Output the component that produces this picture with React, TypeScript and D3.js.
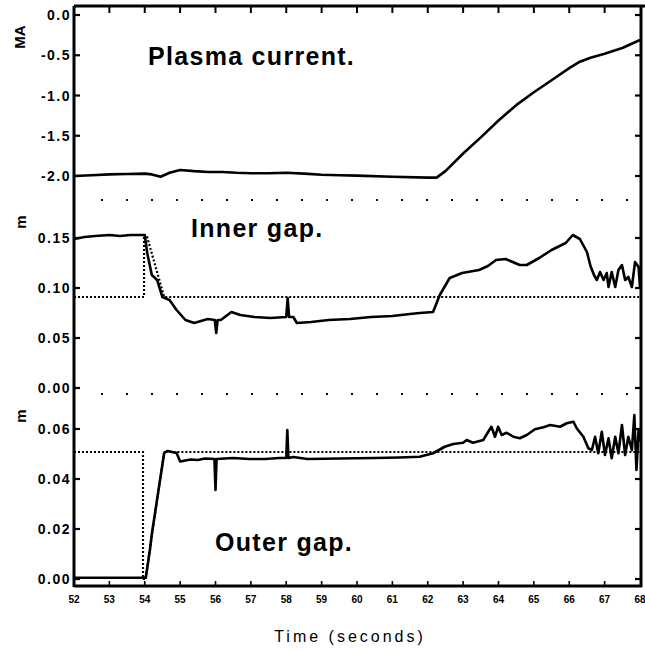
import React from "react";
import * as d3 from "d3";

// time axis (seconds)
const timeTicks = d3.range(52, 69);

// panel tick values + labels
const currentTicks = [0, -0.5, -1.0, -1.5, -2.0];
const currentLabels = ["0.0", "-0.5", "-1.0", "-1.5", "-2.0"];
const innerTicks = [0.15, 0.1, 0.05, 0.0];
const innerLabels = ["0.15", "0.10", "0.05", "0.00"];
const outerTicks = [0.06, 0.04, 0.02, 0.0];
const outerLabels = ["0.06", "0.04", "0.02", "0.00"];

// plasma current, MA
const plasmaCurrent: [number, number][] = [
  [52.0, -2.0], [52.5, -1.99], [53.0, -1.98], [53.5, -1.975], [54.0, -1.97],
  [54.2, -1.98], [54.45, -2.01], [54.7, -1.96], [55.0, -1.925], [55.4, -1.94],
  [55.8, -1.95], [56.2, -1.95], [56.6, -1.96], [57.0, -1.965], [57.5, -1.965],
  [58.0, -1.96], [58.5, -1.97], [59.0, -1.985], [59.5, -1.99], [60.0, -1.995],
  [61.0, -2.01], [62.0, -2.02], [62.25, -2.02], [62.5, -1.94], [63.0, -1.72],
  [63.5, -1.52], [64.0, -1.31], [64.5, -1.12], [65.0, -0.96], [65.5, -0.81],
  [66.0, -0.66], [66.3, -0.58], [66.6, -0.53], [67.0, -0.48], [67.5, -0.41],
  [68.0, -0.31],
];

// inner gap, m (measured)
const innerGap: [number, number][] = [
  [52.0, 0.149], [52.3, 0.151], [52.6, 0.152], [53.0, 0.153], [53.3, 0.152],
  [53.6, 0.153], [54.0, 0.153], [54.07, 0.135], [54.2, 0.113], [54.35, 0.108],
  [54.5, 0.091], [54.7, 0.088], [54.9, 0.078], [55.15, 0.068], [55.4, 0.065],
  [55.78, 0.069], [55.98, 0.068], [56.02, 0.055], [56.06, 0.068], [56.15, 0.068],
  [56.45, 0.076], [56.7, 0.073], [57.1, 0.071], [57.55, 0.07], [58.0, 0.071],
  [58.04, 0.09], [58.08, 0.071], [58.2, 0.071], [58.3, 0.065], [58.7, 0.066],
  [59.2, 0.068], [59.8, 0.069], [60.4, 0.071], [61.0, 0.072], [61.5, 0.074],
  [61.77, 0.075], [62.15, 0.076], [62.34, 0.093], [62.62, 0.11], [62.97, 0.115],
  [63.45, 0.118], [63.7, 0.122], [63.93, 0.128], [64.2, 0.129], [64.6, 0.123],
  [64.8, 0.123], [65.15, 0.13], [65.5, 0.138], [65.9, 0.145], [66.1, 0.153],
  [66.3, 0.149], [66.5, 0.136], [66.6, 0.122], [66.7, 0.113], [66.78, 0.108],
  [66.87, 0.116], [66.97, 0.108], [67.06, 0.115], [67.11, 0.101], [67.2, 0.116],
  [67.3, 0.101], [67.39, 0.118], [67.49, 0.123], [67.58, 0.108], [67.67, 0.111],
  [67.77, 0.101], [67.86, 0.126], [67.96, 0.121], [68.0, 0.101],
];

// inner gap reference (dotted)
const innerRef: [number, number][] = [
  [52.0, 0.091], [53.98, 0.091], [53.98, 0.153], [54.05, 0.153], [54.55, 0.091], [68.0, 0.091],
];

// outer gap, m (measured)
const outerGap: [number, number][] = [
  [52.0, 0.0005], [53.0, 0.0005], [54.03, 0.0005], [54.15, 0.012], [54.2, 0.018],
  [54.55, 0.0505], [54.65, 0.0512], [54.9, 0.0504], [55.0, 0.047], [55.3, 0.0478],
  [55.5, 0.0476], [55.7, 0.0482], [55.97, 0.048], [56.0, 0.0356], [56.03, 0.048],
  [56.5, 0.0484], [56.95, 0.048], [57.4, 0.048], [57.8, 0.0484], [58.0, 0.0484],
  [58.03, 0.0596], [58.06, 0.0484], [58.2, 0.0488], [58.6, 0.048], [59.5, 0.0482],
  [60.5, 0.0484], [61.2, 0.0486], [61.77, 0.0489], [62.15, 0.0503], [62.48, 0.0529],
  [62.72, 0.054], [63.0, 0.0545], [63.1, 0.0556], [63.28, 0.0545], [63.57, 0.0556],
  [63.71, 0.0589], [63.8, 0.0609], [63.9, 0.0569], [63.99, 0.0609], [64.09, 0.0576],
  [64.23, 0.0585], [64.42, 0.0569], [64.6, 0.0563], [64.8, 0.0576], [65.03, 0.0599],
  [65.27, 0.0607], [65.46, 0.0616], [65.74, 0.0609], [65.93, 0.0623], [66.12, 0.0629],
  [66.21, 0.0603], [66.4, 0.0569], [66.54, 0.0523], [66.64, 0.0516], [66.73, 0.0569],
  [66.82, 0.0503], [66.92, 0.0589], [67.01, 0.0496], [67.11, 0.0563], [67.2, 0.0483],
  [67.3, 0.0569], [67.39, 0.0503], [67.49, 0.0616], [67.58, 0.0496], [67.67, 0.0569],
  [67.77, 0.0516], [67.84, 0.0656], [67.9, 0.0436], [67.96, 0.0596], [68.0, 0.0549],
];

// outer gap reference (dotted)
const outerRef: [number, number][] = [
  [52.0, 0.0508], [53.95, 0.0508], [53.95, 0.0], [54.02, 0.0], [54.55, 0.0508], [68.0, 0.0508],
];

const FONT = "'Liberation Sans', Arial, sans-serif";

const App = () => {
  const left = 74;
  const right = 641;
  const top = 6;
  const bottom = 586;

  const x = d3.scaleLinear().domain([52, 68]).range([left, 640]);
  const yCur = d3.scaleLinear().domain([0, -2]).range([15, 176]);
  const yIn = d3.scaleLinear().domain([0, 0.15]).range([388, 238]);
  const yOut = d3.scaleLinear().domain([0, 0.06]).range([579, 429]);

  const lineFor = (y: d3.ScaleLinear<number, number>) =>
    d3
      .line<[number, number]>()
      .x((d) => x(d[0]))
      .y((d) => y(d[1]));

  const panels = [
    { y: yCur, ticks: currentTicks, labels: currentLabels },
    { y: yIn, ticks: innerTicks, labels: innerLabels },
    { y: yOut, ticks: outerTicks, labels: outerLabels },
  ];

  const solid = { fill: "none", stroke: "#000", strokeWidth: 2.6, strokeLinejoin: "round" as const };
  const dotted = { fill: "none", stroke: "#000", strokeWidth: 2.2, strokeDasharray: "2 2" };

  return (
    <svg
      width={645}
      height={654}
      style={{ position: "absolute", left: 0, top: 0, background: "#fff" }}
      fontFamily={FONT}
    >
      <rect width={645} height={654} fill="#fff" />

      {/* frame */}
      <line x1={left} x2={645} y1={top} y2={top} stroke="#000" strokeWidth={3} />
      <line x1={left} x2={left} y1={top} y2={bottom + 1} stroke="#000" strokeWidth={3} />
      <line x1={right} x2={right} y1={top} y2={bottom + 1} stroke="#000" strokeWidth={3} />
      <line x1={left} x2={right + 1} y1={bottom} y2={bottom} stroke="#000" strokeWidth={3} />

      {/* panel separators */}
      {[200, 394].map((yy) => (
        <line key={yy} x1={101} x2={630} y1={yy} y2={yy} stroke="#000" strokeWidth={2} strokeDasharray="2 23" />
      ))}

      {/* time ticks top & bottom */}
      {timeTicks.slice(1, -1).map((t) => (
        <g key={t}>
          <line x1={x(t)} x2={x(t)} y1={top} y2={top + 7} stroke="#000" strokeWidth={2} />
          <line x1={x(t)} x2={x(t)} y1={bottom} y2={bottom - 5} stroke="#000" strokeWidth={1.6} />
        </g>
      ))}
      {timeTicks.map((t) => (
        <text key={t} x={x(t)} y={603} fontSize={10} fontWeight="bold" textAnchor="middle">
          {t}
        </text>
      ))}

      {/* y ticks */}
      {panels.map((p, i) => (
        <g key={i}>
          {p.ticks.map((v, j) => (
            <g key={j}>
              <line x1={left} x2={left + 6} y1={p.y(v)} y2={p.y(v)} stroke="#000" strokeWidth={2.2} />
              <line x1={right} x2={right - 6} y1={p.y(v)} y2={p.y(v)} stroke="#000" strokeWidth={2.2} />
              <text
                x={71}
                y={p.y(v)}
                dy="0.36em"
                fontSize={14}
                fontWeight="bold"
                textAnchor="end"
                letterSpacing={1.5}
              >
                {p.labels[j]}
              </text>
            </g>
          ))}
        </g>
      ))}

      {/* unit labels */}
      <text transform="translate(25,37) rotate(-90)" fontSize={15} fontWeight="bold" textAnchor="middle">
        MA
      </text>
      <text transform="translate(26,222) rotate(-90)" fontSize={15} fontWeight="bold" textAnchor="middle">
        m
      </text>
      <text transform="translate(26,416) rotate(-90)" fontSize={15} fontWeight="bold" textAnchor="middle">
        m
      </text>

      {/* traces */}
      <path d={lineFor(yCur)(plasmaCurrent) || ""} {...solid} />
      <path d={lineFor(yIn)(innerRef) || ""} {...dotted} />
      <path d={lineFor(yIn)(innerGap) || ""} {...solid} />
      <path d={lineFor(yOut)(outerRef) || ""} {...dotted} />
      <path d={lineFor(yOut)(outerGap) || ""} {...solid} />

      {/* panel titles */}
      <text x={148} y={65} fontSize={25} fontWeight="bold" letterSpacing={1.3}>
        Plasma current.
      </text>
      <text x={191} y={237} fontSize={25} fontWeight="bold" letterSpacing={1.3}>
        Inner gap.
      </text>
      <text x={215} y={551} fontSize={25} fontWeight="bold" letterSpacing={1.3}>
        Outer gap.
      </text>

      {/* x axis title */}
      <text x={350} y={642} fontSize={16} textAnchor="middle" letterSpacing={3}>
        Time (seconds)
      </text>
    </svg>
  );
};

export default App;
